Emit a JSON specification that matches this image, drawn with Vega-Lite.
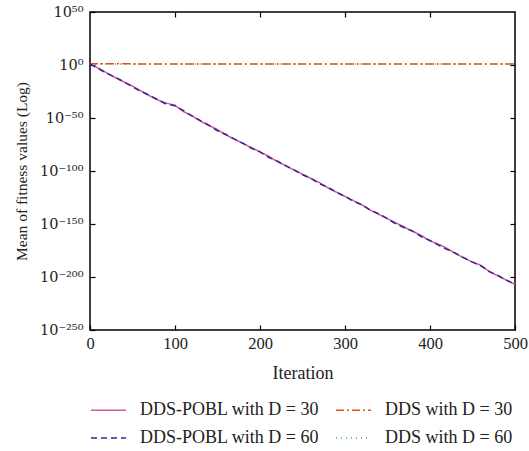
{
  "$schema": "https://vega.github.io/schema/vega-lite/v6.json",
  "width": 425,
  "height": 318,
  "autosize": "none",
  "padding": {"left": 90, "top": 12, "right": 14, "bottom": 121},
  "background": "white",
  "config": {
    "font": "Liberation Serif",
    "view": {"stroke": "black", "strokeWidth": 1.5},
    "axis": {
      "grid": false,
      "domain": false,
      "tickColor": "black",
      "tickWidth": 1.2,
      "tickSize": -5,
      "labelFont": "Liberation Serif",
      "labelFontSize": 16.5,
      "labelColor": "#222",
      "titleFont": "Liberation Serif",
      "titleFontSize": 18,
      "titleFontWeight": "normal",
      "titleColor": "#222"
    },
    "legend": {
      "labelFont": "Liberation Serif",
      "labelFontSize": 18,
      "labelColor": "#222"
    }
  },
  "data": {
    "values": [
      {"series": "DDS with D = 60", "iteration": 0, "value": 10},
      {"series": "DDS with D = 60", "iteration": 100, "value": 10},
      {"series": "DDS with D = 60", "iteration": 200, "value": 10},
      {"series": "DDS with D = 60", "iteration": 300, "value": 9},
      {"series": "DDS with D = 60", "iteration": 400, "value": 9},
      {"series": "DDS with D = 60", "iteration": 500, "value": 9},
      {"series": "DDS with D = 30", "iteration": 0, "value": 12},
      {"series": "DDS with D = 30", "iteration": 100, "value": 11},
      {"series": "DDS with D = 30", "iteration": 200, "value": 10},
      {"series": "DDS with D = 30", "iteration": 300, "value": 10},
      {"series": "DDS with D = 30", "iteration": 400, "value": 10},
      {"series": "DDS with D = 30", "iteration": 500, "value": 10},
      {"series": "DDS-POBL with D = 30", "iteration": 0, "value": 10},
      {"series": "DDS-POBL with D = 30", "iteration": 10, "value": 1e-3},
      {"series": "DDS-POBL with D = 30", "iteration": 20, "value": 3e-8},
      {"series": "DDS-POBL with D = 30", "iteration": 30, "value": 1e-12},
      {"series": "DDS-POBL with D = 30", "iteration": 40, "value": 1e-16},
      {"series": "DDS-POBL with D = 30", "iteration": 50, "value": 1e-20},
      {"series": "DDS-POBL with D = 30", "iteration": 60, "value": 3e-25},
      {"series": "DDS-POBL with D = 30", "iteration": 70, "value": 1e-29},
      {"series": "DDS-POBL with D = 30", "iteration": 80, "value": 1e-33},
      {"series": "DDS-POBL with D = 30", "iteration": 90, "value": 1e-36},
      {"series": "DDS-POBL with D = 30", "iteration": 100, "value": 1e-38},
      {"series": "DDS-POBL with D = 30", "iteration": 110, "value": 1e-44},
      {"series": "DDS-POBL with D = 30", "iteration": 120, "value": 1e-48},
      {"series": "DDS-POBL with D = 30", "iteration": 130, "value": 1e-53},
      {"series": "DDS-POBL with D = 30", "iteration": 140, "value": 1e-57},
      {"series": "DDS-POBL with D = 30", "iteration": 150, "value": 1e-61},
      {"series": "DDS-POBL with D = 30", "iteration": 160, "value": 1e-66},
      {"series": "DDS-POBL with D = 30", "iteration": 170, "value": 1e-70},
      {"series": "DDS-POBL with D = 30", "iteration": 180, "value": 1e-74},
      {"series": "DDS-POBL with D = 30", "iteration": 190, "value": 1e-78},
      {"series": "DDS-POBL with D = 30", "iteration": 200, "value": 1e-82},
      {"series": "DDS-POBL with D = 30", "iteration": 210, "value": 1e-86},
      {"series": "DDS-POBL with D = 30", "iteration": 220, "value": 1e-91},
      {"series": "DDS-POBL with D = 30", "iteration": 230, "value": 1e-95},
      {"series": "DDS-POBL with D = 30", "iteration": 240, "value": 1e-99},
      {"series": "DDS-POBL with D = 30", "iteration": 250, "value": 1e-103},
      {"series": "DDS-POBL with D = 30", "iteration": 260, "value": 1e-107},
      {"series": "DDS-POBL with D = 30", "iteration": 270, "value": 1e-111},
      {"series": "DDS-POBL with D = 30", "iteration": 280, "value": 1e-116},
      {"series": "DDS-POBL with D = 30", "iteration": 290, "value": 1e-120},
      {"series": "DDS-POBL with D = 30", "iteration": 300, "value": 1e-124},
      {"series": "DDS-POBL with D = 30", "iteration": 310, "value": 1e-128},
      {"series": "DDS-POBL with D = 30", "iteration": 320, "value": 1e-132},
      {"series": "DDS-POBL with D = 30", "iteration": 330, "value": 1e-137},
      {"series": "DDS-POBL with D = 30", "iteration": 340, "value": 1e-141},
      {"series": "DDS-POBL with D = 30", "iteration": 350, "value": 1e-145},
      {"series": "DDS-POBL with D = 30", "iteration": 360, "value": 1e-149},
      {"series": "DDS-POBL with D = 30", "iteration": 370, "value": 1e-153},
      {"series": "DDS-POBL with D = 30", "iteration": 380, "value": 1e-157},
      {"series": "DDS-POBL with D = 30", "iteration": 390, "value": 1e-161},
      {"series": "DDS-POBL with D = 30", "iteration": 400, "value": 1e-166},
      {"series": "DDS-POBL with D = 30", "iteration": 410, "value": 1e-169},
      {"series": "DDS-POBL with D = 30", "iteration": 420, "value": 1e-173},
      {"series": "DDS-POBL with D = 30", "iteration": 430, "value": 1e-178},
      {"series": "DDS-POBL with D = 30", "iteration": 440, "value": 1e-182},
      {"series": "DDS-POBL with D = 30", "iteration": 450, "value": 1e-186},
      {"series": "DDS-POBL with D = 30", "iteration": 460, "value": 1e-189},
      {"series": "DDS-POBL with D = 30", "iteration": 470, "value": 1e-195},
      {"series": "DDS-POBL with D = 30", "iteration": 480, "value": 1e-199},
      {"series": "DDS-POBL with D = 30", "iteration": 490, "value": 1e-203},
      {"series": "DDS-POBL with D = 30", "iteration": 500, "value": 1e-207},
      {"series": "DDS-POBL with D = 60", "iteration": 0, "value": 10},
      {"series": "DDS-POBL with D = 60", "iteration": 10, "value": 3e-4},
      {"series": "DDS-POBL with D = 60", "iteration": 20, "value": 1e-8},
      {"series": "DDS-POBL with D = 60", "iteration": 30, "value": 3e-12},
      {"series": "DDS-POBL with D = 60", "iteration": 40, "value": 1e-16},
      {"series": "DDS-POBL with D = 60", "iteration": 50, "value": 3e-21},
      {"series": "DDS-POBL with D = 60", "iteration": 60, "value": 1e-25},
      {"series": "DDS-POBL with D = 60", "iteration": 70, "value": 3e-29},
      {"series": "DDS-POBL with D = 60", "iteration": 80, "value": 1e-33},
      {"series": "DDS-POBL with D = 60", "iteration": 90, "value": 1e-37},
      {"series": "DDS-POBL with D = 60", "iteration": 100, "value": 3e-39},
      {"series": "DDS-POBL with D = 60", "iteration": 110, "value": 1e-43},
      {"series": "DDS-POBL with D = 60", "iteration": 120, "value": 1e-48},
      {"series": "DDS-POBL with D = 60", "iteration": 130, "value": 3e-53},
      {"series": "DDS-POBL with D = 60", "iteration": 140, "value": 1e-57},
      {"series": "DDS-POBL with D = 60", "iteration": 150, "value": 1e-62},
      {"series": "DDS-POBL with D = 60", "iteration": 160, "value": 3e-66},
      {"series": "DDS-POBL with D = 60", "iteration": 170, "value": 1e-70},
      {"series": "DDS-POBL with D = 60", "iteration": 180, "value": 1e-74},
      {"series": "DDS-POBL with D = 60", "iteration": 190, "value": 3e-79},
      {"series": "DDS-POBL with D = 60", "iteration": 200, "value": 1e-82},
      {"series": "DDS-POBL with D = 60", "iteration": 210, "value": 1e-87},
      {"series": "DDS-POBL with D = 60", "iteration": 220, "value": 3e-91},
      {"series": "DDS-POBL with D = 60", "iteration": 230, "value": 1e-95},
      {"series": "DDS-POBL with D = 60", "iteration": 240, "value": 1e-99},
      {"series": "DDS-POBL with D = 60", "iteration": 250, "value": 3e-104},
      {"series": "DDS-POBL with D = 60", "iteration": 260, "value": 1e-107},
      {"series": "DDS-POBL with D = 60", "iteration": 270, "value": 1e-112},
      {"series": "DDS-POBL with D = 60", "iteration": 280, "value": 3e-116},
      {"series": "DDS-POBL with D = 60", "iteration": 290, "value": 1e-120},
      {"series": "DDS-POBL with D = 60", "iteration": 300, "value": 1e-124},
      {"series": "DDS-POBL with D = 60", "iteration": 310, "value": 3e-129},
      {"series": "DDS-POBL with D = 60", "iteration": 320, "value": 1e-132},
      {"series": "DDS-POBL with D = 60", "iteration": 330, "value": 1e-137},
      {"series": "DDS-POBL with D = 60", "iteration": 340, "value": 3e-141},
      {"series": "DDS-POBL with D = 60", "iteration": 350, "value": 1e-145},
      {"series": "DDS-POBL with D = 60", "iteration": 360, "value": 1e-150},
      {"series": "DDS-POBL with D = 60", "iteration": 370, "value": 3e-154},
      {"series": "DDS-POBL with D = 60", "iteration": 380, "value": 1e-157},
      {"series": "DDS-POBL with D = 60", "iteration": 390, "value": 1e-162},
      {"series": "DDS-POBL with D = 60", "iteration": 400, "value": 3e-166},
      {"series": "DDS-POBL with D = 60", "iteration": 410, "value": 1e-170},
      {"series": "DDS-POBL with D = 60", "iteration": 420, "value": 1e-174},
      {"series": "DDS-POBL with D = 60", "iteration": 430, "value": 3e-178},
      {"series": "DDS-POBL with D = 60", "iteration": 440, "value": 1e-182},
      {"series": "DDS-POBL with D = 60", "iteration": 450, "value": 1e-186},
      {"series": "DDS-POBL with D = 60", "iteration": 460, "value": 3e-190},
      {"series": "DDS-POBL with D = 60", "iteration": 470, "value": 1e-195},
      {"series": "DDS-POBL with D = 60", "iteration": 480, "value": 3e-199},
      {"series": "DDS-POBL with D = 60", "iteration": 490, "value": 1e-203},
      {"series": "DDS-POBL with D = 60", "iteration": 500, "value": 1e-207}
    ]
  },
  "layer": [
    {
      "mark": {"type": "line", "strokeWidth": 1.5},
      "encoding": {
        "x": {
          "field": "iteration",
          "type": "quantitative",
          "scale": {"domain": [0, 500], "nice": false},
          "axis": {
            "orient": "bottom",
            "values": [0, 100, 200, 300, 400, 500],
            "title": "Iteration",
            "labelPadding": 10,
            "titlePadding": 13,
            "labelFlush": false
          }
        },
        "y": {
          "field": "value",
          "type": "quantitative",
          "scale": {"type": "log", "domain": [1e-250, 1e50], "nice": false},
          "axis": {
            "orient": "left",
            "values": [1e50, 1, 1e-50, 1e-100, 1e-150, 1e-200, 1e-250],
            "title": "Mean of fitness values (Log)",
            "titleFontSize": 15.5,
            "labelFont": "DejaVu Serif",
            "labelFontSize": 14.5,
            "labelPadding": 12,
            "titlePadding": 10,
            "labelFlush": false,
            "labelExpr": "round(log(datum.value)/LN10) == 50 ? '10⁵⁰' : round(log(datum.value)/LN10) == 0 ? '10⁰' : round(log(datum.value)/LN10) == -50 ? '10⁻⁵⁰' : round(log(datum.value)/LN10) == -100 ? '10⁻¹⁰⁰' : round(log(datum.value)/LN10) == -150 ? '10⁻¹⁵⁰' : round(log(datum.value)/LN10) == -200 ? '10⁻²⁰⁰' : '10⁻²⁵⁰'"
          }
        },
        "color": {
          "field": "series",
          "type": "nominal",
          "scale": {
            "domain": ["DDS-POBL with D = 30", "DDS with D = 30", "DDS-POBL with D = 60", "DDS with D = 60"],
            "range": ["#d9529f", "#f04a1a", "#2b2a8c", "#3cb54a"]
          },
          "legend": {
            "title": null,
            "orient": "none",
            "legendX": 0,
            "legendY": 379.5,
            "direction": "horizontal",
            "columns": 2,
            "symbolType": "stroke",
            "symbolSize": 1225,
            "symbolStrokeWidth": 1.5,
            "labelOffset": 13,
            "columnPadding": 13,
            "rowPadding": -7,
            "labelLimit": 400
          }
        },
        "strokeDash": {
          "field": "series",
          "type": "nominal",
          "scale": {
            "domain": ["DDS-POBL with D = 30", "DDS with D = 30", "DDS-POBL with D = 60", "DDS with D = 60"],
            "range": [[1, 0], [8, 3, 2, 3], [6, 4], [1, 4]]
          },
          "legend": {
            "title": null,
            "orient": "none",
            "legendX": 0,
            "legendY": 379.5,
            "direction": "horizontal",
            "columns": 2,
            "symbolType": "stroke",
            "symbolSize": 1225,
            "symbolStrokeWidth": 1.5,
            "labelOffset": 13,
            "columnPadding": 13,
            "rowPadding": -7,
            "labelLimit": 400
          }
        }
      }
    },
    {
      "mark": {"type": "line", "opacity": 0},
      "encoding": {
        "x": {
          "field": "iteration",
          "type": "quantitative",
          "axis": {"orient": "top", "values": [100, 200, 300, 400], "labels": false, "title": null}
        },
        "y": {
          "field": "value",
          "type": "quantitative",
          "scale": {"type": "log"},
          "axis": {"orient": "right", "values": [1, 1e-50, 1e-100, 1e-150, 1e-200], "labels": false, "title": null}
        },
        "detail": {"field": "series"}
      }
    }
  ],
  "resolve": {"axis": {"x": "independent", "y": "independent"}}
}
